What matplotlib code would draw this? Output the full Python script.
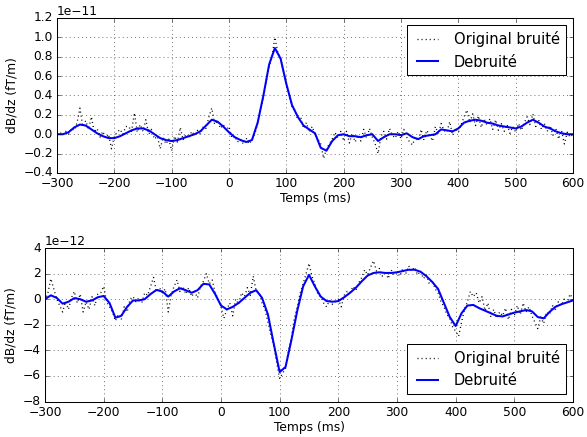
import numpy as np
import matplotlib
matplotlib.use("Agg")
import matplotlib.pyplot as plt

plt.style.use('classic')
plt.rcParams['font.family'] = ['DejaVu Sans']

# ---------------- data ----------------
t_smooth = np.arange(-300, 601, 10)   # ms
t_noisy = np.arange(-300, 601, 5)     # ms

# top panel (units of 1e-11)
top_smooth = [
    0.00, 0.00, 0.02, 0.07, 0.10, 0.09, 0.05, 0.01, -0.02, -0.04,
    -0.04, -0.02, 0.01, 0.04, 0.06, 0.06, 0.04, 0.00, -0.04, -0.06,
    -0.07, -0.06, -0.04, -0.02, 0.00, 0.03, 0.09, 0.15, 0.13, 0.08,
    0.02, -0.03, -0.06, -0.08, -0.06, 0.12, 0.40, 0.72, 0.89, 0.78,
    0.52, 0.30, 0.18, 0.09, 0.05, 0.01, -0.14, -0.17, -0.07, -0.01,
    0.00, -0.02, -0.02, -0.03, -0.01, 0.00, -0.07, -0.03, 0.00, 0.00,
    -0.01, 0.01, -0.03, -0.05, -0.02, -0.01, 0.00, 0.05, 0.04, 0.03,
    0.06, 0.12, 0.14, 0.15, 0.14, 0.12, 0.11, 0.09, 0.08, 0.07,
    0.06, 0.08, 0.12, 0.15, 0.12, 0.08, 0.06, 0.03, 0.01, 0.00,
    0.00,
]
top_noisy = [
    0.00, 0.02, -0.01, 0.03, 0.00, 0.06, 0.04, 0.12, 0.27, 0.08,
    0.14, 0.05, 0.18, 0.02, 0.06, -0.03, 0.03, -0.04, 0.00, -0.15,
    -0.02, 0.02, 0.05, 0.00, 0.08, 0.08, 0.03, 0.22, 0.02, 0.10,
    0.03, 0.15, 0.00, 0.05, -0.05, -0.02, -0.15, -0.03, -0.10, -0.05,
    -0.17, -0.02, -0.08, 0.07, -0.06, 0.00, -0.04, 0.03, -0.01, 0.04,
    0.00, 0.08, 0.06, 0.18, 0.27, 0.10, 0.14, 0.06, 0.10, 0.04,
    0.08, -0.04, -0.02, -0.08, -0.05, -0.10, -0.04, -0.10, -0.06, 0.00,
    0.12, 0.25, 0.38, 0.55, 0.70, 0.80, 1.00, 0.85, 0.78, 0.65,
    0.52, 0.40, 0.28, 0.25, 0.15, 0.18, 0.06, 0.12, 0.02, 0.08,
    0.00, -0.05, -0.10, -0.25, -0.15, -0.10, -0.05, 0.02, -0.04, 0.03,
    -0.07, 0.03, -0.09, 0.01, -0.08, -0.01, -0.07, 0.05, -0.04, 0.06,
    -0.03, -0.10, -0.20, -0.02, 0.03, -0.05, 0.06, -0.01, -0.04, 0.03,
    -0.05, 0.05, -0.03, -0.08, -0.11, -0.03, -0.07, 0.05, -0.06, 0.04,
    -0.01, -0.07, 0.08, 0.00, 0.11, 0.04, 0.02, 0.13, -0.01, 0.06,
    0.02, 0.10, 0.18, 0.25, 0.12, 0.21, 0.09, 0.19, 0.07, 0.16,
    0.09, 0.16, 0.05, 0.15, 0.04, 0.11, 0.03, 0.10, 0.01, 0.08,
    0.02, 0.11, 0.04, 0.12, 0.18, 0.10, 0.21, 0.08, 0.15, 0.05,
    0.11, 0.03, 0.09, -0.01, 0.06, -0.05, 0.04, -0.10, 0.02, -0.03,
    0.00,
]

# bottom panel (units of 1e-12)
bot_smooth = [
    0.00, 0.30, 0.10, -0.35, -0.20, 0.08, 0.00, -0.20, -0.10, 0.15,
    0.25, -0.30, -1.45, -1.30, -0.60, -0.10, -0.10, 0.00, 0.40, 0.72,
    0.60, 0.20, 0.60, 0.85, 0.70, 0.50, 0.70, 1.20, 1.15, 0.40,
    -0.50, -0.80, -0.60, -0.30, 0.10, 0.50, 0.70, 0.10, -1.20, -3.50,
    -5.70, -5.30, -3.20, -0.90, 1.00, 1.90, 1.00, 0.20, -0.15, -0.20,
    -0.15, 0.15, 0.50, 0.90, 1.40, 1.85, 2.05, 2.10, 2.05, 2.05,
    2.10, 2.20, 2.30, 2.30, 2.15, 1.80, 1.35, 0.80, -0.30, -1.40,
    -2.10, -1.10, -0.50, -0.45, -0.70, -0.90, -1.10, -1.30, -1.35, -1.20,
    -1.05, -0.95, -0.85, -0.95, -1.40, -1.50, -1.00, -0.60, -0.40, -0.25,
    -0.10,
]
bot_noisy = [
    -0.1, 0.5, 1.6, 0.8, 0.0, -0.5, -1.0, -0.2, -0.8, 0.1,
    0.6, -0.3, 0.4, -1.0, -0.2, -0.8, 0.2, -0.5, 0.4, 0.5,
    1.0, -0.2, -0.6, -1.0, -1.7, -1.2, -1.6, -0.6, -1.0, 0.0,
    0.2, -0.2, 0.1, -0.3, 0.5, 0.3, 1.0, 1.7, 0.6, 0.9,
    0.5, 0.8, -1.0, 0.3, 1.0, 1.5, 0.6, 1.0, 0.4, 0.9,
    0.2, 0.6, 0.1, 1.0, 1.4, 2.0, 1.2, 1.5, 0.5, 0.0,
    -0.6, -1.5, -0.8, -0.3, -1.3, 0.0, -0.4, 0.5, 0.2, 0.9,
    0.3, 1.8, 0.6, 0.5, -0.3, -0.8, -1.8, -2.8, -3.6, -5.0,
    -6.2, -5.8, -5.4, -4.0, -3.0, -1.5, -0.6, 0.5, 1.2, 2.0,
    2.8, 1.8, 1.2, 0.4, 0.2, -0.3, -0.6, -0.1, -0.4, -0.2,
    0.0, -0.6, 0.3, 0.6, 0.5, 1.0, 0.7, 1.3, 1.7, 2.3,
    1.9, 2.5, 3.0, 2.2, 2.4, 1.8, 2.2, 1.6, 2.3, 1.9,
    2.1, 1.8, 2.4, 2.0, 2.6, 2.2, 2.5, 1.9, 2.2, 1.6,
    1.9, 1.2, 1.5, 0.8, 0.5, -0.2, -0.6, -1.2, -1.5, -2.2,
    -2.5, -2.9, -1.8, -0.8, -0.2, 0.6, 0.2, 0.5, -0.3, 0.2,
    -0.9, -0.3, -1.4, -0.8, -1.5, -1.0, -1.3, -0.7, -1.6, -0.8,
    -1.3, -0.5, -1.2, -0.3, -1.0, -0.6, -1.3, -1.8, -2.3, -1.4,
    -1.9, -1.0, -1.2, -0.5, -0.8, -0.2, -0.5, 0.0, -0.3, 0.4,
    0.0,
]

top_scale = 1e-11
bot_scale = 1e-12

x_ticks = [-300, -200, -100, 0, 100, 200, 300, 400, 500, 600]
top_yticks = [-0.4, -0.2, 0.0, 0.2, 0.4, 0.6, 0.8, 1.0, 1.2]
bot_yticks = [-8, -6, -4, -2, 0, 2, 4]

label_noisy = "Original bruité"
label_smooth = "Debruité"
xlabel = "Temps (ms)"
ylabel = "dB/dz (fT/m)"

# ---------------- figure ----------------
DPI = 73.375
fig = plt.figure(figsize=(587 / DPI, 437 / DPI), dpi=DPI, facecolor='white')

ax1 = fig.add_axes([57 / 587, (437 - 173) / 437, (573 - 57) / 587, (173 - 18) / 437])
ax2 = fig.add_axes([45 / 587, (437 - 401.5) / 437, (573 - 45) / 587, (401.5 - 248) / 437])

panels = [
    (ax1, top_noisy, top_smooth, top_scale, top_yticks, 'upper right'),
    (ax2, bot_noisy, bot_smooth, bot_scale, bot_yticks, 'lower right'),
]

for ax, noisy, smooth, scale, yticks, loc in panels:
    ax.plot(t_noisy, np.array(noisy) * scale, 'k:', linewidth=1.3, label=label_noisy)
    ax.plot(t_smooth, np.array(smooth) * scale, 'b-', linewidth=2.0, label=label_smooth)
    ax.set_xlim(-300, 600)
    ax.set_ylim(yticks[0] * scale, yticks[-1] * scale)
    ax.set_xticks(x_ticks)
    ax.set_yticks(np.array(yticks) * scale)
    ax.grid(True, linestyle=':', color='k', linewidth=0.5)
    ax.set_xlabel(xlabel, labelpad=2)
    ax.set_ylabel(ylabel)
    ax.legend(loc=loc, fancybox=False)

fig.savefig("out.png", dpi=DPI, facecolor='white')
